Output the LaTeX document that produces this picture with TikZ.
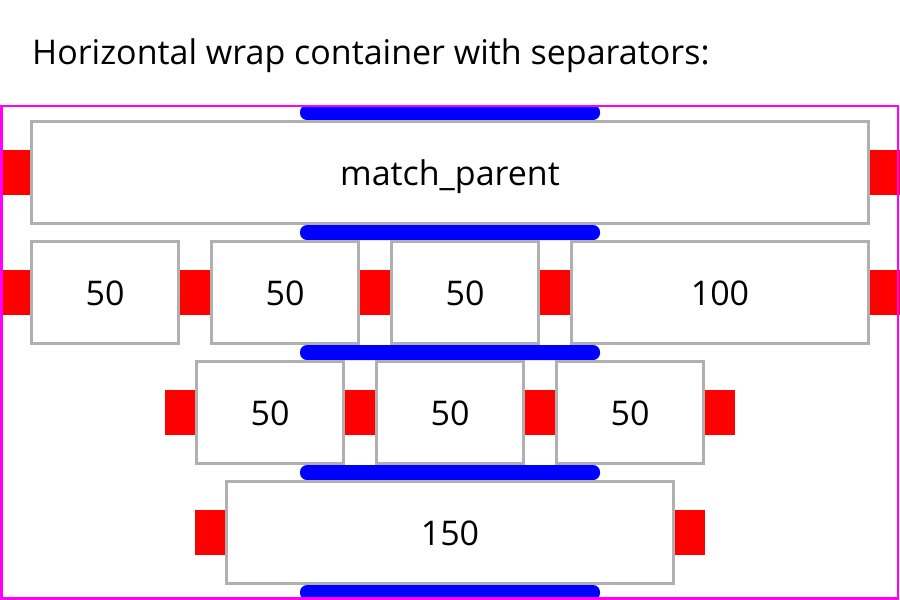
\documentclass[tikz,border=0pt]{standalone}
\usepackage{fontspec}
\setmainfont{Open Sans}
\definecolor{boxgray}{RGB}{176,176,176}
\definecolor{framemag}{RGB}{255,0,255}
\begin{document}
\begin{tikzpicture}[x=1pt,y=-1pt,
  box/.style={draw=boxgray, line width=2.6pt, fill=white, inner sep=0pt,
    minimum height=102.4pt, text height=25pt, text depth=0pt,
    font=\fontsize{34}{41}\selectfont},
  w50/.style={minimum width=147.4pt},
  sepbox/.style={fill=red, inner sep=0pt, minimum width=30pt, minimum height=45pt},
  bar/.style={fill=blue, rounded corners=7pt, inner sep=0pt, minimum width=300pt, minimum height=15pt},
  framebox/.style={draw=framemag, line width=2.5pt}]
\useasboundingbox (0,0) rectangle (900,600);

\node[anchor=base west, inner sep=0pt, font=\fontsize{34}{41}\selectfont] (title) at (32,64) {Horizontal wrap container with separators:};

% bars
\node[bar] (b0) at (450,112.5) {};
\node[bar] (b1) at (450,232.5) {};
\node[bar] (b2) at (450,352.5) {};
\node[bar] (b3) at (450,472.5) {};
\node[bar] (b4) at (450,592.5) {};

% row 1
\node[box, minimum width=837.4pt] (r1) at (450,172.5) {match\_parent};
\node[sepbox] (s10) at (15,172.5) {};
\node[sepbox] (s11) at (885,172.5) {};

% row 2
\node[box, w50] (r2a) at (105,292.5) {50};
\node[box, w50] (r2b) at (285,292.5) {50};
\node[box, w50] (r2c) at (465,292.5) {50};
\node[box, minimum width=297.4pt] (r2d) at (720,292.5) {100};
\node[sepbox] (s20) at (15,292.5) {};
\node[sepbox] (s21) at (195,292.5) {};
\node[sepbox] (s22) at (375,292.5) {};
\node[sepbox] (s23) at (555,292.5) {};
\node[sepbox] (s24) at (885,292.5) {};

% row 3
\node[box, w50] (r3a) at (270,412.5) {50};
\node[box, w50] (r3b) at (450,412.5) {50};
\node[box, w50] (r3c) at (630,412.5) {50};
\node[sepbox] (s30) at (180,412.5) {};
\node[sepbox] (s31) at (360,412.5) {};
\node[sepbox] (s32) at (540,412.5) {};
\node[sepbox] (s33) at (720,412.5) {};

% row 4
\node[box, minimum width=447.4pt] (r4) at (450,532.5) {150};
\node[sepbox] (s40) at (210,532.5) {};
\node[sepbox] (s41) at (690,532.5) {};

% frame
\draw[framebox] (1.4,106.2) rectangle (897.8,598.4);
\end{tikzpicture}
\end{document}
